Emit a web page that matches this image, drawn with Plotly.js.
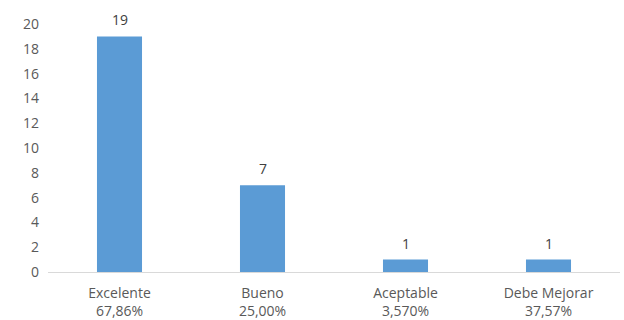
<!DOCTYPE html>
<html>
<head>
<meta charset="utf-8">
<script src="https://cdn.plot.ly/plotly-3.0.1.min.js"></script>
<style>html,body{margin:0;padding:0;background:#fff;}#chart{width:624px;height:320px;}</style>
</head>
<body>
<div id="chart"></div>
<script>
const categories = ["Excelente", "Bueno", "Aceptable", "Debe Mejorar"];
const percentages = ["67,86%", "25,00%", "3,570%", "37,57%"];
const values = [19, 7, 1, 1];
const yTicks = [0, 2, 4, 6, 8, 10, 12, 14, 16, 18, 20];

const tickLabels = categories.map((c, i) => c + "<br>" + percentages[i]);

const labelFont = {family: "Open Sans, sans-serif", size: 14, color: "#404040"};

Plotly.newPlot("chart", [{
  type: "bar",
  x: categories,
  y: values,
  width: 0.315,
  marker: {color: "#5b9bd5"},
  hoverinfo: "none"
}], {
  width: 624, height: 320,
  margin: {l: 48, r: 4, t: 24, b: 48},
  paper_bgcolor: "#fff", plot_bgcolor: "#fff",
  showlegend: false,
  xaxis: {
    type: "category",
    tickvals: categories,
    ticktext: tickLabels,
    showline: true, linecolor: "#d9d9d9", linewidth: 1,
    ticks: "", showgrid: false, zeroline: false,
    ticklabelstandoff: 8,
    tickfont: {family: "Open Sans, sans-serif", size: 14, color: "#595959"}
  },
  yaxis: {
    range: [0, 20],
    tickvals: yTicks,
    showgrid: false, zeroline: false, showline: false, ticks: "",
    ticklabelstandoff: 8,
    tickfont: {family: "Open Sans, sans-serif", size: 14, color: "#595959"}
  },
  annotations: categories.map((c, i) => ({
    x: c, y: values[i], xref: "x", yref: "y",
    text: String(values[i]), showarrow: false,
    yanchor: "bottom", yshift: 5,
    font: labelFont
  }))
}, {staticPlot: true});
</script>
</body>
</html>
